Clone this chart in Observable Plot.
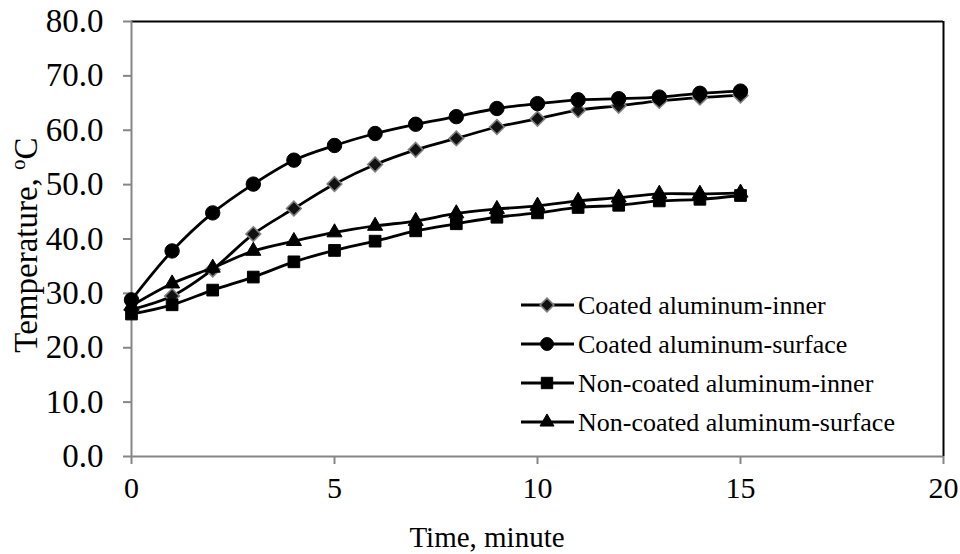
<!DOCTYPE html>
<html>
<head>
<meta charset="utf-8">
<script src="https://cdn.jsdelivr.net/npm/d3@7"></script>
<script src="https://cdn.jsdelivr.net/npm/@observablehq/plot@0.6"></script>
<style>
  html, body { margin: 0; padding: 0; background: #fff; }
  #chart svg { display: block; }
</style>
</head>
<body>
<div id="chart"></div>
<script>
const time = [0, 1, 2, 3, 4, 5, 6, 7, 8, 9, 10, 11, 12, 13, 14, 15];
const coatedInner = [27.0, 29.5, 34.4, 40.9, 45.6, 50.1, 53.7, 56.4, 58.5, 60.6, 62.1, 63.7, 64.5, 65.4, 66.0, 66.4];
const coatedSurface = [28.8, 37.8, 44.8, 50.1, 54.5, 57.2, 59.4, 61.1, 62.5, 64.0, 64.9, 65.6, 65.8, 66.1, 66.8, 67.2];
const nonCoatedInner = [26.2, 27.9, 30.6, 33.0, 35.8, 37.9, 39.6, 41.5, 42.8, 44.0, 44.8, 45.8, 46.2, 47.0, 47.3, 48.0];
const nonCoatedSurface = [27.7, 31.8, 34.7, 37.8, 39.6, 41.2, 42.4, 43.3, 44.7, 45.5, 46.1, 47.0, 47.6, 48.3, 48.3, 48.5];
const seriesNames = ["Coated aluminum-inner", "Coated aluminum-surface", "Non-coated aluminum-inner", "Non-coated aluminum-surface"];
const xTicks = [0, 5, 10, 15, 20];
const yTicks = [0, 10, 20, 30, 40, 50, 60, 70, 80];
const xLabel = "Time, minute";
const yLabel = "Temperature, ";

const seriesValues = [coatedInner, coatedSurface, nonCoatedInner, nonCoatedSurface];
const symbols = ["diamond2", "circle", "square", "triangle2"];
const symbolR = [6.6, 7.2, 6.6, 7.2];
const markerFill = ["#111", "#000", "#000", "#000"];
const markerStroke = ["#7f7f7f", "#000", "#000", "#000"];

const marks = [
  Plot.ruleY([80], {stroke: "#000", strokeWidth: 2}),
  Plot.ruleX([20], {stroke: "#000", strokeWidth: 2}),
  Plot.axisX({ticks: xTicks, tickSize: 8, tickPadding: 12, stroke: "#868686", strokeWidth: 2, fontSize: 30, label: null, tickFormat: d => String(d)}),
  Plot.axisY({ticks: yTicks, tickSize: 8, tickPadding: 20, stroke: "#868686", strokeWidth: 2, fontSize: 33, label: null, tickFormat: d => d.toFixed(1)}),
  Plot.ruleX([0], {stroke: "#868686", strokeWidth: 2}),
  Plot.ruleY([0], {stroke: "#868686", strokeWidth: 2})
];

seriesValues.forEach((vals, i) => {
  const data = time.map((t, j) => ({t, v: vals[j], s: seriesNames[i]}));
  marks.push(Plot.line(data, {x: "t", y: "v", stroke: "#000", strokeWidth: 2.8, curve: "catmull-rom"}));
  marks.push(Plot.dot(data, {x: "t", y: "v", symbol: symbols[i], r: symbolR[i], fill: markerFill[i], stroke: markerStroke[i], strokeWidth: i === 0 ? 1.6 : 1}));
});

const chart = Plot.plot({
  width: 960,
  height: 554,
  marginLeft: 131,
  marginRight: 17,
  marginTop: 21,
  marginBottom: 98,
  style: {fontFamily: "'Liberation Serif', 'Times New Roman', serif", color: "#000", background: "#fff"},
  x: {domain: [0, 20]},
  y: {domain: [0, 80]},
  marks
});
document.getElementById("chart").appendChild(chart);

const svg = d3.select(chart);
// Axis titles
svg.append("text")
  .attr("x", 487).attr("y", 547)
  .attr("text-anchor", "middle")
  .attr("font-size", 29)
  .attr("fill", "#000")
  .text(xLabel);

const yt = svg.append("text")
  .attr("transform", "translate(37,245) rotate(-90)")
  .attr("text-anchor", "middle")
  .attr("font-size", 33)
  .attr("fill", "#000");
yt.append("tspan").text(yLabel);
yt.append("tspan").attr("font-size", 21).attr("baseline-shift", "super").text("o");
yt.append("tspan").text("C");

// Legend
const legendRows = [305, 344, 383, 422];
const d3Symbols = [d3.symbolDiamond2, d3.symbolCircle, d3.symbolSquare, d3.symbolTriangle2];
const legendSizes = [120, 130, 130, 140];
const lg = svg.append("g").attr("text-anchor", "start");
seriesNames.forEach((name, i) => {
  const y = legendRows[i];
  lg.append("line").attr("x1", 521).attr("x2", 574).attr("y1", y).attr("y2", y)
    .attr("stroke", "#000").attr("stroke-width", 2.8);
  lg.append("path").attr("d", d3.symbol(d3Symbols[i], legendSizes[i])())
    .attr("transform", `translate(547,${y})`)
    .attr("fill", markerFill[i]).attr("stroke", markerStroke[i]).attr("stroke-width", i === 0 ? 1.6 : 1);
  lg.append("text").attr("x", 578).attr("y", y).attr("dy", "0.35em")
    .attr("text-anchor", "start")
    .attr("font-size", 26).attr("fill", "#000").text(name);
});
</script>
</body>
</html>
